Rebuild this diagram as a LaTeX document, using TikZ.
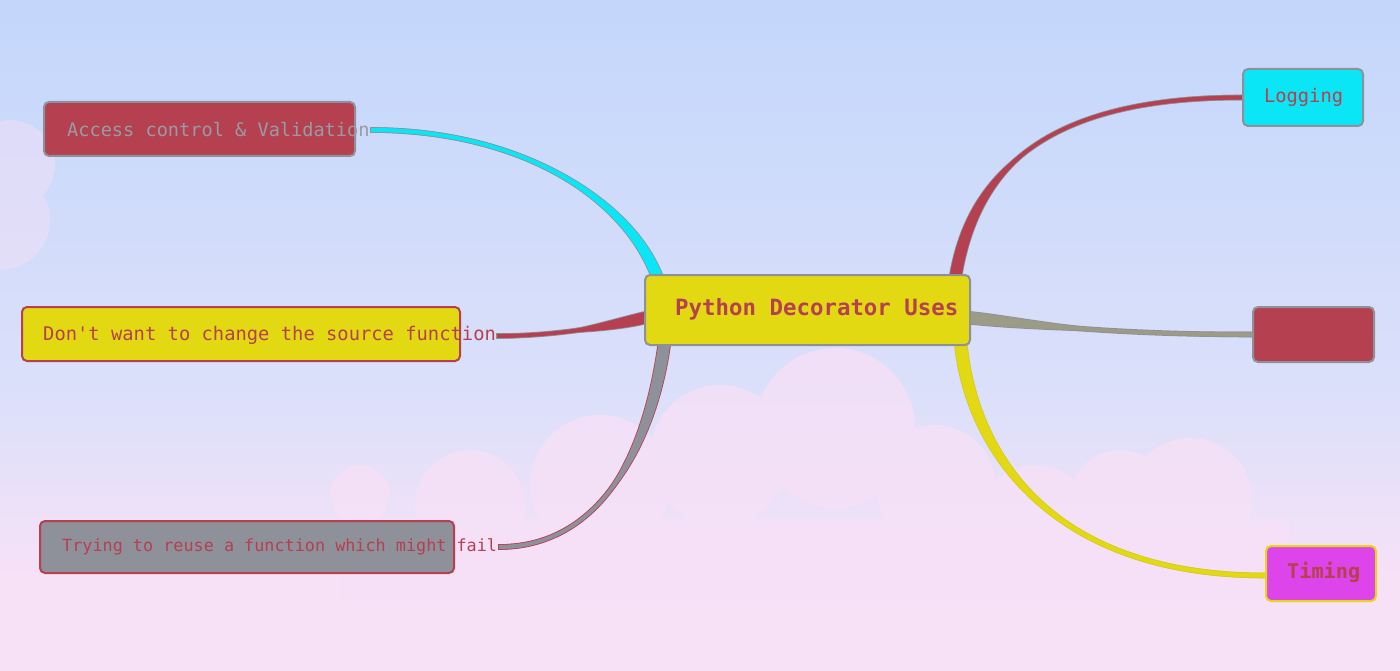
\documentclass[tikz,border=0pt]{standalone}
\usepackage{fontspec}
\setmonofont{DejaVu Sans Mono}
\usetikzlibrary{calc}
\definecolor{mred}{HTML}{B5404F}
\definecolor{myel}{HTML}{E3D912}
\definecolor{mgray}{HTML}{8E909A}
\definecolor{mcyan}{HTML}{0AE6F5}
\definecolor{mmag}{HTML}{DD44EA}
\definecolor{skytop}{HTML}{C3D7FB}
\definecolor{skymid}{HTML}{DCE0FA}
\definecolor{skybot}{HTML}{F7E1F7}
\definecolor{cloud}{HTML}{F6E0F7}
\pgfdeclarelayer{bg}
\pgfdeclarelayer{links}
\pgfsetlayers{bg,links,main}
\tikzset{
  box/.style={rounded corners=5pt, line width=2pt, inner sep=0pt},
  lbl/.style={anchor=west, inner sep=0pt, text=mred},
}
% #1 fill colour, #2 edge colour, #3 start, #4 end, #5 start control, #6 end control, #7 end half-width vector
\newcommand\taperline[7]{%
  \draw[#2, line width=5.5pt] (#3) .. controls +(#5) and +(#6) .. (#4);
  \filldraw[#2, line width=1.6pt] ($(#3)+(0,-2)$) .. controls +(#5) and +(#6) .. ($(#4)+(#7)$) -- ($(#4)-(#7)$) .. controls +(#6) and +(#5) .. ($(#3)+(0,2)$) -- cycle;
  \draw[#1, line width=3.8pt] (#3) .. controls +(#5) and +(#6) .. (#4);
  \fill[#1] ($(#3)+(0,-2)$) .. controls +(#5) and +(#6) .. ($(#4)+(#7)$) -- ($(#4)-(#7)$) .. controls +(#6) and +(#5) .. ($(#3)+(0,2)$) -- cycle;}
\begin{document}
\begin{tikzpicture}[x=1pt,y=-1pt]
\useasboundingbox (0,0) rectangle (1400,671);
\begin{pgfonlayer}{bg}
  \shade[top color=skytop, bottom color=skymid] (0,0) rectangle (1400,400);
  \shade[top color=skymid, bottom color=skybot] (0,399) rectangle (1400,580);
  \fill[skybot] (0,579) rectangle (1400,671);
  \begin{scope}[transparency group, opacity=0.8]
    \foreach \cx/\cy/\r in {360/495/30, 470/505/55, 600/485/70, 720/455/70,
        835/428/80, 935/485/60, 1035/525/60, 1120/500/50, 1190/500/62}
      \fill[cloud] (\cx,\cy) circle (\r);
    \fill[cloud] (340,520) rectangle (1290,600);
  \end{scope}
  \begin{scope}[transparency group, opacity=0.45]
    \fill[cloud] (10,165) circle (45);
    \fill[cloud] (0,220) circle (50);
  \end{scope}
\end{pgfonlayer}

% nodes
\node[box, fill=myel, draw=mgray, minimum width=325pt, minimum height=70pt] (c) at (807.5,310) {};
\node[lbl, font=\ttfamily\bfseries\fontsize{22.4}{24}\selectfont] (ct) at (675,309) {Python Decorator Uses};

\node[box, fill=mred, draw=mgray, minimum width=311pt, minimum height=54pt] (acc) at (199.5,129) {};
\node[lbl, text=mgray!90!white, font=\ttfamily\fontsize{18.6}{20}\selectfont] (acct) at (67,130) {Access control \& Validation};

\node[box, fill=myel, draw=mred, minimum width=438pt, minimum height=54pt] (dont) at (241,334) {};
\node[lbl, font=\ttfamily\fontsize{18.8}{20}\selectfont] (dontt) at (43,335) {Don't want to change the source function};

\node[box, fill=mgray, draw=mred, minimum width=414pt, minimum height=52pt] (try) at (247,547) {};
\node[lbl, font=\ttfamily\fontsize{16.8}{18}\selectfont] (tryt) at (62,547) {Trying to reuse a function which might fail};

\node[box, fill=mcyan, draw=mgray, minimum width=120pt, minimum height=57pt] (log) at (1303,97.5) {};
\node[lbl, font=\ttfamily\fontsize{18.7}{20}\selectfont] (logt) at (1264,97) {Logging};

\node[box, fill=mred, draw=mgray, minimum width=121pt, minimum height=55pt] (mid) at (1313.5,334.5) {};

\node[box, fill=mmag, draw=myel, minimum width=110pt, minimum height=55pt] (tim) at (1321,573.5) {};
\node[lbl, font=\ttfamily\bfseries\fontsize{20.2}{22}\selectfont] (timt) at (1287,572) {Timing};

% connector anchors
\coordinate (e1) at ($(c.north west)+(12,0)$);
\coordinate (e2) at ($(c.west)+(0,8)$);
\coordinate (e3) at ($(c.south west)+(20,0)$);
\coordinate (e4) at ($(c.north east)+(-15,0)$);
\coordinate (e5) at ($(c.east)+(0,8)$);
\coordinate (e6) at ($(c.south east)+(-10,0)$);
\coordinate (s1) at ($(acc.east)+(15,1)$);
\coordinate (s2) at ($(dont.east)+(36,2)$);
\coordinate (s3) at ($(try.east)+(44,0)$);
\coordinate (s4) at (log.west);
\coordinate (s5) at (mid.west);
\coordinate (s6) at ($(tim.west)+(0,2)$);

\begin{pgfonlayer}{links}
  \taperline{mcyan}{mgray}{s1}{e1}{150,0}{-30,-75}{6,0}
  \taperline{mred}{mgray}{s2}{e2}{60,0}{-35,8}{0,6}
  \taperline{mgray}{mred}{s3}{e3}{100,0}{-15,105}{6,0}
  \taperline{mred}{mgray}{s4}{e4}{-180,0}{20,-115}{6,0}
  \taperline{mgray!85!myel}{mgray}{s5}{e5}{-150,0}{50,5}{0,6}
  \taperline{myel}{myel!80!mgray}{s6}{e6}{-210,0}{12,110}{6,0}
\end{pgfonlayer}
\end{tikzpicture}
\end{document}
